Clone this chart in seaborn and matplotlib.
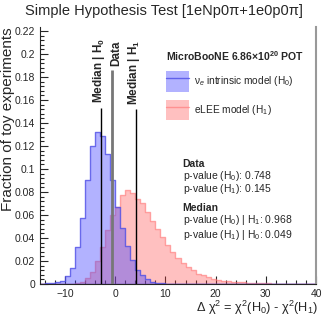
import matplotlib
matplotlib.use("Agg")
import matplotlib.pyplot as plt
import seaborn as sns
from matplotlib.patches import Patch
from matplotlib.lines import Line2D
from matplotlib.ticker import MultipleLocator, FormatStrFormatter

# Delta chi2 histogram binning (unit-width bins from -15 to 40)
bin_edges = list(range(-15, 41))
bin_centers = [e + 0.5 for e in bin_edges[:-1]]

# Fraction of toy experiments per bin, nu_e intrinsic model (H0)
h0_frac = [0.0003, 0.0005, 0.001, 0.0015, 0.003, 0.007, 0.014, 0.032, 0.057, 0.090,
           0.120, 0.132, 0.129, 0.113, 0.090, 0.067, 0.049, 0.033, 0.021, 0.012,
           0.008, 0.004, 0.002, 0.001, 0.0005, 0.0003, 0.0, 0.0, 0.0, 0.0,
           0.0, 0.0, 0.0, 0.0, 0.0, 0.0, 0.0, 0.0, 0.0, 0.0,
           0.0, 0.0, 0.0, 0.0, 0.0, 0.0, 0.0, 0.0, 0.0, 0.0,
           0.0, 0.0, 0.0, 0.0, 0.0]

# Fraction of toy experiments per bin, eLEE model (H1)
h1_frac = [0.0, 0.0, 0.0, 0.0, 0.0, 0.0, 0.0, 0.0005, 0.002, 0.005,
           0.010, 0.020, 0.032, 0.047, 0.060, 0.067, 0.077, 0.082, 0.079, 0.074,
           0.070, 0.063, 0.055, 0.048, 0.041, 0.034, 0.028, 0.023, 0.018, 0.015,
           0.012, 0.009, 0.008, 0.006, 0.0045, 0.0035, 0.003, 0.0025, 0.002, 0.0017,
           0.0014, 0.0012, 0.001, 0.0008, 0.0006, 0.0005, 0.0004, 0.0003, 0.0002, 0.00015,
           0.0001, 0.0, 0.0, 0.0, 0.0]

# Vertical markers: median of H0, observed data, median of H1
marker_x = [-2.8, -0.7, 4.2]
marker_top = [0.153, 0.186, 0.152]
marker_labels = [r"Median | H$_\mathbf{0}$", "Data", r"Median | H$_\mathbf{1}$"]
marker_text_shift = [-0.5, 0.8, -0.5]

data_pvalues = [0.748, 0.145]
median_pvalues = [0.968, 0.049]

sns.set_style("ticks")
plt.rcParams['font.family'] = ['Liberation Sans', 'DejaVu Sans']
plt.rcParams['mathtext.fontset'] = 'custom'
plt.rcParams['mathtext.rm'] = 'Liberation Sans'
plt.rcParams['mathtext.it'] = 'Liberation Sans:italic'
plt.rcParams['mathtext.bf'] = 'Liberation Sans:bold'

fig, ax = plt.subplots(figsize=(3.27, 3.16), dpi=100)
fig.subplots_adjust(left=0.1223, right=0.9664, bottom=0.1013, top=0.9146)

h1_face = (1.0, 0.25, 0.25, 0.33)
h1_edge = (1.0, 0.45, 0.45, 0.6)
h0_face = (0.25, 0.25, 1.0, 0.4)
h0_edge = (0.3, 0.3, 0.9, 0.8)

sns.histplot(x=bin_centers, weights=h1_frac, bins=bin_edges, element="step", fill=True,
             facecolor=h1_face, edgecolor=h1_edge, linewidth=1.0, ax=ax)
sns.histplot(x=bin_centers, weights=h0_frac, bins=bin_edges, element="step", fill=True,
             facecolor=h0_face, edgecolor=h0_edge, linewidth=1.0, ax=ax)

# median / data lines with rotated labels
line_colors = ["black", "#777777", "black"]
line_widths = [1.0, 2.0, 1.0]
for x, top, lab, dx, c, lw in zip(marker_x, marker_top, marker_labels, marker_text_shift,
                                  line_colors, line_widths):
    ax.vlines(x, 0, top, color=c, linewidth=lw, zorder=5)
    ax.text(x + dx, top + 0.004, lab, rotation=90, ha="center", va="bottom",
            fontsize=8.5, fontweight="bold")

ax.set_xlim(-15, 40)
ax.set_ylim(0, 0.2235)

ax.xaxis.set_major_locator(MultipleLocator(10))
ax.xaxis.set_minor_locator(MultipleLocator(2))
ax.yaxis.set_major_locator(MultipleLocator(0.02))
ax.yaxis.set_minor_locator(MultipleLocator(0.004))
ax.yaxis.set_major_formatter(FormatStrFormatter("%g"))
ax.tick_params(which="both", direction="in", labelsize=7.5, top=False, right=False)
ax.tick_params(which="major", length=6, width=0.8)
ax.tick_params(which="minor", length=3, width=0.8)

ax.spines["top"].set_visible(False)
ax.spines["right"].set_color("#999999")
ax.spines["right"].set_linewidth(1.5)

ax.set_xlabel(r"Δ χ$^2$ = χ$^2$(H$_0$) - χ$^2$(H$_1$)", fontsize=9.2, loc="right")
ax.xaxis.set_label_coords(1.005, -0.058)
ax.set_ylabel("Fraction of toy experiments", fontsize=11, loc="top")
ax.yaxis.set_label_coords(-0.092, 1.0)

fig.text(0.5, 0.965, "Simple Hypothesis Test [1eNp0π+1e0p0π]", ha="center", va="center",
         fontsize=10.5)

# legend: filled box with a line through the middle (ROOT style)
h0_handle = (Patch(facecolor=h0_face, edgecolor="none"),
             Line2D([], [], color=h0_edge, linewidth=1.0))
h1_handle = (Patch(facecolor=h1_face, edgecolor="none"),
             Line2D([], [], color=h1_edge, linewidth=1.0))
leg = ax.legend([h0_handle, h1_handle],
                [r"ν$_e$ intrinsic model (H$_0$)", r"eLEE model (H$_1$)"],
                title=r"MicroBooNE 6.86×10$^{\mathbf{20}}$ POT",
                title_fontproperties={"weight": "bold", "size": 7.5},
                loc="upper left", bbox_to_anchor=(0.455, 0.915), frameon=False,
                fontsize=7.3, handlelength=2.3, handleheight=2.7, labelspacing=0.85,
                borderpad=0, borderaxespad=0, handletextpad=0.5, alignment="left")

# p-value summary text
ax.text(0.517, 0.467, "Data", transform=ax.transAxes, fontsize=7.5, fontweight="bold", va="center")
ax.text(0.517, 0.420, r"p-value (H$_0$): %.3f" % data_pvalues[0], transform=ax.transAxes,
        fontsize=7.5, va="center")
ax.text(0.517, 0.370, r"p-value (H$_1$): %.3f" % data_pvalues[1], transform=ax.transAxes,
        fontsize=7.5, va="center")
ax.text(0.517, 0.295, "Median", transform=ax.transAxes, fontsize=7.5, fontweight="bold", va="center")
ax.text(0.517, 0.248, r"p-value (H$_0$) | H$_1$: %.3f" % median_pvalues[0], transform=ax.transAxes,
        fontsize=7.5, va="center")
ax.text(0.517, 0.192, r"p-value (H$_1$) | H$_0$: %.3f" % median_pvalues[1], transform=ax.transAxes,
        fontsize=7.5, va="center")

fig.savefig("out.png", dpi=100)
